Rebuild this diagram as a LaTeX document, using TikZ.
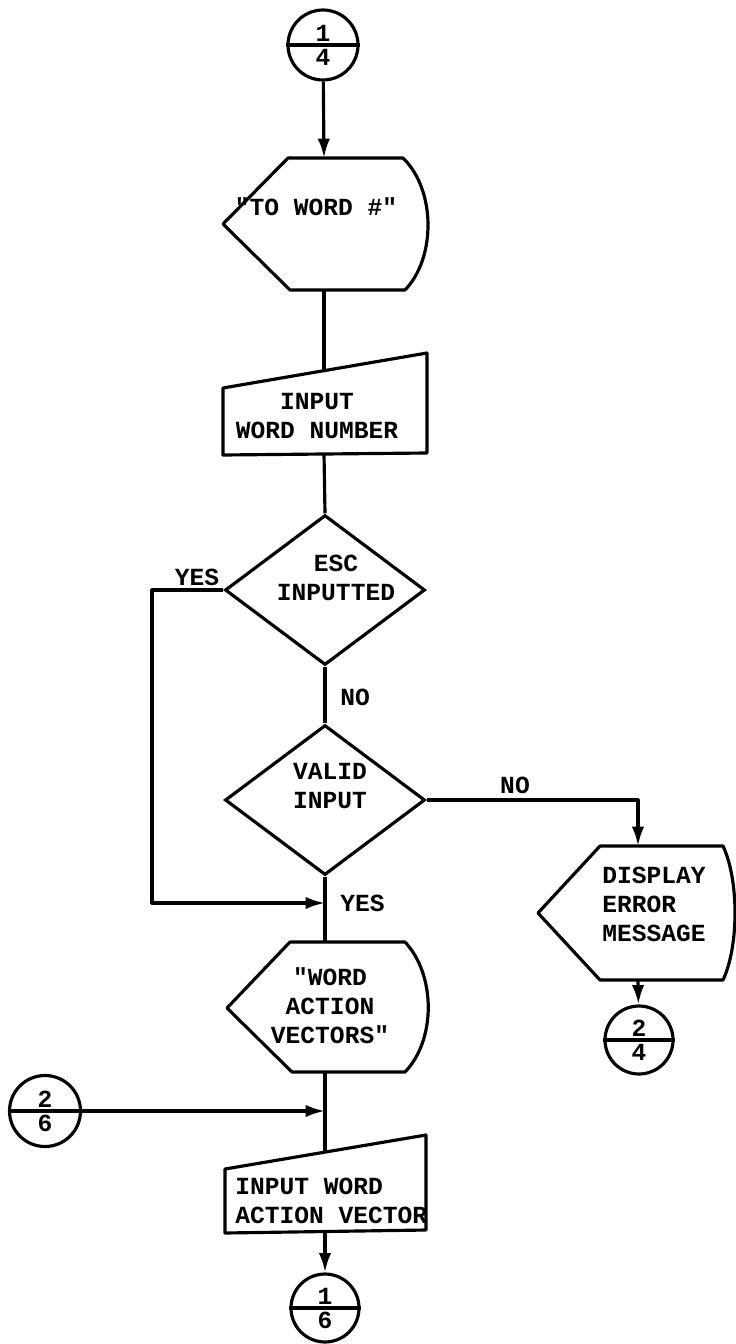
\documentclass[tikz,border=0pt]{standalone}
\usepackage{fontspec}
\newfontfamily\typewriter{Liberation Mono}
\usetikzlibrary{arrows.meta,shapes.geometric}

\begin{document}
\begin{tikzpicture}[
        x=0.02cm, y=-0.02cm,
        font=\typewriter\bfseries\fontsize{14}{16.5}\selectfont,
        flowline/.style={line width=1.8pt, line join=round},
        flowarrow/.style={flowline, -{Latex[length=11pt,width=7pt]}},
        decision/.style={diamond, draw, line width=1.8pt, minimum width=4cm, minimum height=3cm, inner sep=0pt},
        connector/.style={circle, draw, line width=1.8pt, minimum size=1.36cm, inner sep=0pt},
        boxtext/.style={align=center, inner sep=0pt},
        digit/.style={inner sep=2pt}
    ]
        \useasboundingbox (0,0) rectangle (736,1344);

        % off-page connectors
        \node[connector, minimum size=1.4cm] (fromOneFour) at (323,45) {};
        \draw[flowline] (fromOneFour.west) -- (fromOneFour.east);
        \node[digit, above] at (fromOneFour.center) {1};
        \node[digit, below] at (fromOneFour.center) {4};

        \node[connector, minimum size=1.42cm] (fromTwoSix) at (45,1111) {};
        \draw[flowline] (fromTwoSix.west) -- (fromTwoSix.east);
        \node[digit, above] at (fromTwoSix.center) {2};
        \node[digit, below] at (fromTwoSix.center) {6};

        \node[connector] (toTwoFour) at (639,1040) {};
        \draw[flowline] (toTwoFour.west) -- (toTwoFour.east);
        \node[digit, above] at (toTwoFour.center) {2};
        \node[digit, below] at (toTwoFour.center) {4};

        \node[connector] (toOneSix) at (325,1308) {};
        \draw[flowline] (toOneSix.west) -- (toOneSix.east);
        \node[digit, above] at (toOneSix.center) {1};
        \node[digit, below] at (toOneSix.center) {6};

        % display "TO WORD #"
        \draw[flowline] (288,158) -- (403,158)
            .. controls (436,190) and (436,258) .. (405,290)
            -- (290,290) -- (223,224) -- cycle;
        \node[boxtext] (wordPrompt) at (316,207) {"TO WORD \#"};
        \coordinate (wordPromptTop) at (324,158);
        \coordinate (wordPromptBottom) at (324,290);

        % manual input of the word number
        \draw[flowline] (223,388) -- (427,353) -- (427,453) -- (223,455) -- cycle;
        \node[boxtext] (inputNumber) at (317,416) {INPUT\\WORD NUMBER};
        \coordinate (inputNumberTop) at (324,371);
        \coordinate (inputNumberBottom) at (324,454);

        % decisions
        \node[decision] (escInputted) at (325,590) {};
        \node[boxtext] at (336,578) {ESC\\INPUTTED};
        \node[decision] (validInput) at (325,800) {};
        \node[boxtext] at (330,786) {VALID\\INPUT};

        % display "DISPLAY ERROR MESSAGE"
        \draw[flowline] (600,846) -- (723,846)
            .. controls (739,880) and (739,946) .. (723,980)
            -- (600,980) -- (538,913) -- cycle;
        \node[boxtext, align=left, anchor=west] (errorMessage) at (602,904)
            {DISPLAY\\ERROR\\MESSAGE};
        \coordinate (errorTop) at (638,846);
        \coordinate (errorBottom) at (638,980);

        % display "WORD ACTION VECTORS"
        \draw[flowline] (290,942) -- (405,942)
            .. controls (436,975) and (436,1040) .. (405,1072)
            -- (292,1072) -- (227,1008) -- cycle;
        \node[boxtext] (actionPrompt) at (330,1006) {"WORD\\ACTION\\VECTORS"};
        \coordinate (actionPromptTop) at (325,942);
        \coordinate (actionPromptBottom) at (325,1072);

        % manual input of the action vector
        \draw[flowline] (225,1169) -- (426,1135) -- (426,1230) -- (225,1233) -- cycle;
        \node[boxtext, align=left, anchor=west] (inputVector) at (235,1201)
            {INPUT WORD\\ACTION VECTOR};
        \coordinate (inputVectorTop) at (325,1152);
        \coordinate (inputVectorBottom) at (325,1232);

        % joins on the main line
        \coordinate (yesCorner) at (152,903);
        \coordinate (yesJoin) at (325,903);
        \coordinate (vectorJoin) at (325,1111);

        % connectors
        \draw[flowarrow] (fromOneFour) -- (wordPromptTop);
        \draw[flowline] (wordPromptBottom) -- (inputNumberTop);
        \draw[flowline] (inputNumberBottom) -- (escInputted.north);
        \draw[flowline] (escInputted.south) -- (validInput.north);
        \draw[flowline] (validInput.south) -- (actionPromptTop);
        \draw[flowarrow] (escInputted.west) -| (yesCorner) -- (yesJoin);
        \draw[flowarrow] (validInput.east) -| (errorTop);
        \draw[flowarrow] (errorBottom) -- (toTwoFour);
        \draw[flowline] (actionPromptBottom) -- (inputVectorTop);
        \draw[flowarrow] (fromTwoSix) -- (vectorJoin);
        \draw[flowarrow] (inputVectorBottom) -- (toOneSix);

        % branch labels
        \node[boxtext] at (197,577) {YES};
        \node[boxtext, anchor=west] at (340,697) {NO};
        \node[boxtext] at (515,785) {NO};
        \node[boxtext, anchor=west] at (340,903) {YES};
    \end{tikzpicture}
\end{document}
